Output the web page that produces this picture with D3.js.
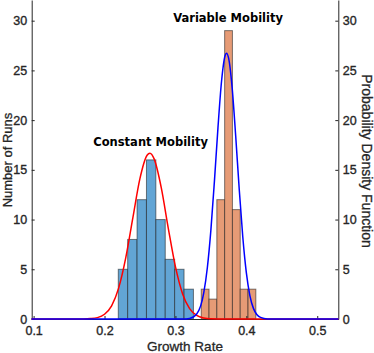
<!DOCTYPE html>
<html>
<head>
<meta charset="utf-8">
<script src="https://cdn.jsdelivr.net/npm/d3@7"></script>
<style>
  body { margin: 0; background: #fff; }
  svg text { font-family: "Liberation Sans", Arial, sans-serif; fill: #262626; }
</style>
</head>
<body>
<div id="chart"></div>
<script>
// histogram data (counts per bin)
const constantStart = 0.2194;
const constantBinWidth = 0.01325;
const constantCounts = [5, 8, 12, 16, 10, 6, 5, 3];

const variableStart = 0.3364;
const variableBinWidth = 0.011;
const variableCounts = [3, 2, 12, 29, 11, 3, 3];

// fitted pdf curves
const constantPdfX = [0.097, 0.15, 0.17, 0.18, 0.19, 0.20, 0.21, 0.22, 0.23, 0.24, 0.25, 0.26, 0.264, 0.27, 0.28, 0.29, 0.30, 0.31, 0.32, 0.33, 0.34, 0.35, 0.36, 0.38, 0.53];
const constantPdfY = [0, 0, 0.01, 0.04, 0.14, 0.48, 1.33, 3.13, 6.17, 10.19, 14.14, 16.47, 16.67, 16.10, 13.21, 9.10, 5.26, 2.55, 1.04, 0.36, 0.10, 0.02, 0.005, 0, 0];

const variablePdfX = [0.097, 0.29, 0.31, 0.32, 0.33, 0.34, 0.345, 0.35, 0.355, 0.36, 0.365, 0.37, 0.372, 0.375, 0.38, 0.385, 0.39, 0.395, 0.40, 0.405, 0.41, 0.42, 0.43, 0.45, 0.53];
const variablePdfY = [0, 0, 0.005, 0.06, 0.50, 2.65, 5.15, 8.94, 13.87, 19.25, 23.88, 26.47, 26.73, 26.23, 23.24, 18.40, 13.03, 8.24, 4.66, 2.36, 1.07, 0.16, 0.01, 0, 0];

const xTicks = [0.1, 0.2, 0.3, 0.4, 0.5];
const yTicks = [0, 5, 10, 15, 20, 25, 30];

const labels = [
  {text: "Constant Mobility", x: 0.265, y: 17.35},
  {text: "Variable Mobility", x: 0.3743, y: 29.9}
];

const width = 374, height = 353;
const svg = d3.select("#chart").append("svg")
  .attr("width", width).attr("height", height);

const x = d3.scaleLinear().domain([0.0973, 0.5297]).range([31.7, 338.3]);
const yLeft = d3.scaleLinear().domain([0, 32.08]).range([319, 0]);
const yRight = d3.scaleLinear().domain([0, 32.08]).range([319, 0]);

function drawBars(start, binW, counts, fill) {
  svg.append("g").selectAll("rect")
    .data(counts)
    .join("rect")
    .attr("x", (d, i) => x(start + i * binW))
    .attr("width", (d, i) => x(start + (i + 1) * binW) - x(start + i * binW))
    .attr("y", d => yLeft(d))
    .attr("height", d => yLeft(0) - yLeft(d))
    .attr("fill", fill)
    .attr("stroke", "#1a1a1a")
    .attr("stroke-opacity", 0.55)
    .attr("stroke-width", 1);
}
drawBars(constantStart, constantBinWidth, constantCounts, "#62a5d5");
drawBars(variableStart, variableBinWidth, variableCounts, "#e69b76");

// axes
const gx = svg.append("g").attr("transform", "translate(0,319)")
  .call(d3.axisBottom(x).tickValues(xTicks).tickFormat(d3.format(".1f")).tickSizeInner(-3).tickSizeOuter(0).tickPadding(7.5));
const gl = svg.append("g").attr("transform", "translate(31.7,0)")
  .call(d3.axisLeft(yLeft).tickValues(yTicks).tickSizeInner(-3).tickSizeOuter(0).tickPadding(4.5));
const gr = svg.append("g").attr("transform", "translate(338.3,0)")
  .call(d3.axisRight(yRight).tickValues(yTicks).tickSizeInner(-3).tickSizeOuter(0).tickPadding(4.5));

[gx, gl, gr].forEach(g => {
  g.select(".domain").attr("stroke", "#262626").attr("stroke-width", 1);
  g.selectAll(".tick line").attr("stroke", "#262626");
  g.selectAll(".tick text").attr("font-size", 12.5).attr("fill", "#262626")
    .attr("stroke", "#262626").attr("stroke-width", 0.35)
    .style("font-family", "'Liberation Sans', Arial, sans-serif");
});

// pdf curves on right axis
const line = d3.line().x(d => x(d[0])).y(d => yRight(d[1])).curve(d3.curveMonotoneX);
svg.append("path")
  .datum(d3.zip(constantPdfX, constantPdfY))
  .attr("d", line).attr("fill", "none").attr("stroke", "#ff0000").attr("stroke-width", 1.5);
svg.append("path")
  .datum(d3.zip(variablePdfX, variablePdfY))
  .attr("d", line).attr("fill", "none").attr("stroke", "#0000ff").attr("stroke-width", 1.5);

// annotations
svg.selectAll(".ann").data(labels).join("text")
  .attr("class", "ann")
  .attr("x", d => x(d.x)).attr("y", d => yLeft(d.y))
  .attr("text-anchor", "middle")
  .style("font-family", "'DejaVu Sans', Verdana, sans-serif")
  .style("font-weight", "bold").style("font-size", "11.5px")
  .style("fill", "#000")
  .text(d => d.text);

// axis titles
const titleStyle = t => t.attr("text-anchor", "middle")
  .attr("stroke", "#262626").attr("stroke-width", 0.3);
svg.append("text")
  .attr("transform", "translate(12,160) rotate(-90)")
  .call(titleStyle).attr("font-size", 13)
  .text("Number of Runs");
svg.append("text")
  .attr("transform", "translate(362,161) rotate(90)")
  .call(titleStyle).attr("font-size", 14)
  .text("Probability Density Function");
svg.append("text")
  .attr("x", 185).attr("y", 351)
  .call(titleStyle).attr("font-size", 13.5)
  .text("Growth Rate");
</script>
</body>
</html>
